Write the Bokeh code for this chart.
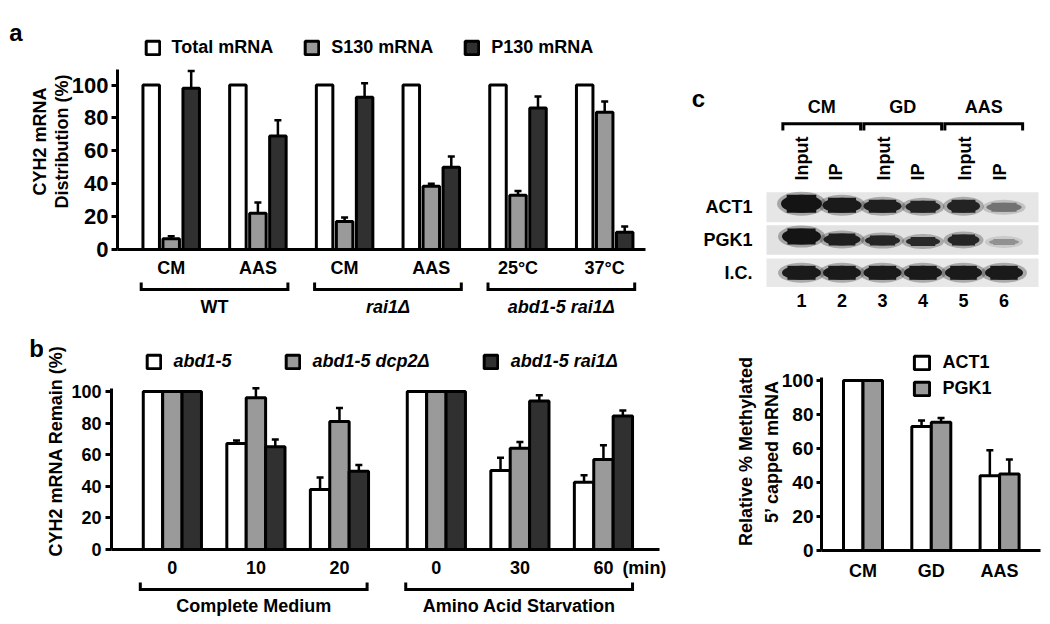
from math import pi
from bokeh.plotting import figure
from bokeh.models import Range1d, FixedTicker, Legend, LegendItem
from bokeh.layouts import row, column
from bokeh.embed import file_html
from bokeh.resources import INLINE
from bokeh.core.properties import value

FONT = "Liberation Sans"
WHITE, GRAY, DARK = "#ffffff", "#9a9a9a", "#303030"

# ---------------- data: panel a ----------------
a_conditions = ["CM", "AAS", "CM", "AAS", "25°C", "37°C"]
a_strains = ["WT", "rai1Δ", "abd1-5 rai1Δ"]
a_series = ["Total mRNA", "S130 mRNA", "P130 mRNA"]
a_total = [100, 100, 100, 100, 100, 100]
a_s130 = [6.5, 22, 17, 38.5, 33, 83.5]
a_s130_sd = [1.5, 6.5, 2.5, 1.5, 2.5, 6.5]
a_p130 = [98, 69, 92.5, 50, 86, 10.5]
a_p130_sd = [10.5, 9.5, 8.5, 6.5, 7, 3.5]

# ---------------- data: panel b ----------------
b_times = ["0", "10", "20", "0", "30", "60"]
b_media = ["Complete Medium", "Amino Acid Starvation"]
b_series = ["abd1-5", "abd1-5 dcp2Δ", "abd1-5 rai1Δ"]
b_abd1 = [100, 67, 38, 100, 50, 42.5]
b_abd1_sd = [0, 2, 7.5, 0, 8, 4.5]
b_dcp2 = [100, 96, 81, 100, 64, 57]
b_dcp2_sd = [0, 6, 8.5, 0, 4, 9]
b_rai1 = [100, 65, 49.5, 100, 94, 84.5]
b_rai1_sd = [0, 4.5, 4, 0, 3.5, 3.5]

# ---------------- data: panel c (gel) ----------------
c_conditions = ["CM", "GD", "AAS"]
c_lane_labels = ["Input", "IP", "Input", "IP", "Input", "IP"]
c_lane_numbers = ["1", "2", "3", "4", "5", "6"]
c_rows = ["ACT1", "PGK1", "I.C."]
c_act1_band = [1.0, 0.97, 0.95, 0.93, 0.93, 0.55]
c_pgk1_band = [1.0, 0.95, 0.92, 0.90, 0.92, 0.40]
c_ic_band = [0.97, 0.97, 0.97, 0.97, 0.97, 0.97]

# ---------------- data: panel c (bars) ----------------
c_series = ["ACT1", "PGK1"]
c_act1 = [100, 73, 44]
c_act1_sd = [0, 3.5, 15]
c_pgk1 = [100, 75.5, 45]
c_pgk1_sd = [0, 2.5, 8.5]


# ---------------- helpers ----------------
def make_fig(w, h, xr, yr, left, right, top, bottom, axes=True):
    kw = dict(width=w, height=h, x_range=xr, y_range=yr, output_backend="svg",
              toolbar_location=None, min_border_left=left, min_border_right=right,
              min_border_top=top, min_border_bottom=bottom, title=None,
              background_fill_color="white", border_fill_color="white",
              frame_align=False)
    if not axes:
        kw.update(x_axis_type=None, y_axis_type=None)
    p = figure(**kw)
    p.outline_line_color = None
    p.grid.visible = False
    return p


def style_axis(ax, size):
    ax.axis_line_width = 3
    ax.axis_line_color = "black"
    ax.major_tick_line_width = 3
    ax.major_tick_line_color = "black"
    ax.minor_tick_line_color = None
    ax.major_label_text_font = FONT
    ax.major_label_text_font_size = size
    ax.major_label_text_font_style = "bold"
    ax.major_label_text_color = "black"
    ax.axis_label_text_font = FONT
    ax.axis_label_text_font_size = "18px"
    ax.axis_label_text_font_style = "bold"
    ax.axis_label_text_color = "black"


def setup_axes(p, pos, labels, ytop, ysize, xsize, xstandoff, ystandoff, ylabel,
               ylabel_standoff, tick_out=6, line_height=1.2):
    xa, ya = p.xaxis[0], p.yaxis[0]
    style_axis(xa, xsize)
    style_axis(ya, ysize)
    xa.ticker = FixedTicker(ticks=list(pos))
    xa.major_label_overrides = {x: lab for x, lab in zip(pos, labels)}
    xa.major_tick_out = 0
    xa.major_tick_in = 0
    xa.major_label_standoff = xstandoff
    ya.ticker = FixedTicker(ticks=[0, 20, 40, 60, 80, 100])
    ya.bounds = (0, ytop)
    ya.major_tick_out = tick_out
    ya.major_tick_in = 0
    ya.major_label_standoff = ystandoff
    ya.axis_label = ylabel
    ya.axis_label_standoff = ylabel_standoff
    ya.axis_label_text_line_height = line_height


def bars(p, pos, series, colors, sds, spacing, width):
    rends = []
    n = len(series)
    for k, (vals, col, sd) in enumerate(zip(series, colors, sds)):
        off = (k - (n - 1) / 2) * spacing
        xs = [x + off for x in pos]
        r = p.vbar(x=xs, top=vals, bottom=0, width=width, fill_color=col,
                   line_color="black", line_width=3)
        rends.append(r)
        if sd is not None:
            ex = [x for x, s in zip(xs, sd) if s > 0]
            e0 = [v for v, s in zip(vals, sd) if s > 0]
            e1 = [v + s for v, s in zip(vals, sd) if s > 0]
            p.segment(x0=ex, y0=e0, x1=ex, y1=e1, line_color="black", line_width=2.5)
            p.scatter(x=ex, y=e1, marker="dash", size=7, line_color="black", line_width=2.5)
    return rends


def add_legend(p, names, rends, loc, orientation, spacing, style, gw, gh, standoff):
    items = [LegendItem(label=value(n), renderers=[r]) for n, r in zip(names, rends)]
    lg = Legend(items=items, location=loc, orientation=orientation, spacing=spacing,
                glyph_width=gw, glyph_height=gh, label_standoff=standoff,
                label_text_font=FONT, label_text_font_size="18px",
                label_text_font_style=style, label_text_color="black",
                padding=0, margin=0, border_line_color=None, background_fill_alpha=0)
    p.add_layout(lg)


def xr_from(frame_w, first_offset, pitch):
    start = -first_offset / pitch
    return Range1d(start, start + frame_w / pitch)


def brackets(p, pos, groups, ext, ytop, ybot, ylab, names, styles):
    xs, ys, cx = [], [], []
    for g in groups:
        l, r = pos[g[0]] - ext, pos[g[-1]] + ext
        xs.append([l, l, r, r])
        ys.append([ytop, ybot, ybot, ytop])
        cx.append((l + r) / 2)
    p.multi_line(xs=xs, ys=ys, line_color="black", line_width=3, line_join="miter")
    for x, n, s in zip(cx, names, styles):
        p.text(x=[x], y=[ylab], text=[n], text_font=value(FONT), text_font_size="18px",
               text_font_style=s, text_align="center", text_baseline="middle", text_color="black")


def letter_fig(w, h, txt, x, y):
    p = make_fig(w, h, Range1d(0, w), Range1d(h, 0), 0, 0, 0, 0, axes=False)
    p.text(x=[x], y=[y], text=[txt], text_font=value(FONT), text_font_size="24px",
           text_font_style="bold", text_align="center", text_baseline="alphabetic", text_color="black")
    return p


# ---------------- panel a ----------------
A_PITCH, A_SCALE = 86.7, 1.645
xr_a = xr_from(528, 53.7, A_PITCH)
la = letter_fig(24, 280, "a", 15.5, 31.5)
fa = make_fig(656, 280, xr_a, Range1d(0, 216 / A_SCALE), 93, 35, 33, 31)
a_pos = list(range(len(a_conditions)))
ra = bars(fa, a_pos, [a_total, a_s130, a_p130], [WHITE, GRAY, DARK],
          [None, a_s130_sd, a_p130_sd], 20 / A_PITCH, 16.5 / A_PITCH)
setup_axes(fa, a_pos, a_conditions, 109.4, "22px", "18px", 8, 3,
           "CYH2 mRNA\nDistribution (%)", -3, line_height=1.1)
add_legend(fa, a_series, ra, (26.5, 191.5), "horizontal", 30, "bold", 17, 17, 11)

fa2 = make_fig(680, 38, xr_a, Range1d(38, 0), 117, 35, 0, 0, axes=False)
brackets(fa2, a_pos, [(0, 1), (2, 3), (4, 5)], 0.346, 2, 9, 26, a_strains,
         ["bold", "bold italic", "bold italic"])

# ---------------- panel b ----------------
B_PITCH, B_SCALE = 84.0, 1.597
xr_b = xr_from(551, 61.2, B_PITCH)
lb = letter_fig(43, 262, "b", 36, 30)
fb = make_fig(637, 262, xr_b, Range1d(0, 199 / B_SCALE), 65, 21, 34, 29)
b_pos = [i + (0.16 if i >= 3 else 0.0) for i in range(len(b_times))]
rb = bars(fb, b_pos, [b_abd1, b_dcp2, b_rai1], [WHITE, GRAY, DARK],
          [b_abd1_sd, b_dcp2_sd, b_rai1_sd], 19.5 / B_PITCH, 19.5 / B_PITCH)
setup_axes(fb, b_pos + [b_pos[-1] + 0.49], b_times + ["(min)"], 102, "18px", "18px", 8, 4,
           "CYH2 mRNA Remain (%)", 2)
add_legend(fb, b_series, rb, (33.5, 176.8), "horizontal", 52, "bold italic", 17, 17, 12)

fb2 = make_fig(680, 44, xr_b, Range1d(44, 0), 108, 21, 0, 0, axes=False)
brackets(fb2, b_pos, [(0, 1, 2), (3, 4, 5)], 0.35, 2, 9, 25, b_media, ["bold", "bold"])

# ---------------- panel c: gel ----------------
P, Q = 40.5, 32.8
LANE1_X, ROW0_Y = 801.0, 206.7


def gx(px):
    return (px - LANE1_X) / P + 1


def gy(py):
    return (py - ROW0_Y) / Q


fg = make_fig(370, 318, Range1d(gx(680), gx(1050)), Range1d(gy(318), gy(0)), 0, 0, 0, 0, axes=False)
lanes = list(range(1, len(c_lane_labels) + 1))
rows = list(range(len(c_rows)))

# strips (membrane background)
fg.rect(x=[gx(902)] * 3, y=rows, width=272 / P, height=[30 / Q, 29.3 / Q, 28.4 / Q],
        fill_color=["#e6e6e6", "#e2e2e2", "#e8e8e8"], line_color=None)

band_w = [[41, 39, 38, 35, 33, 35], [39, 37, 35, 34, 32, 30], [39, 38, 38, 38, 37, 38]]
band_h = [[18, 15, 13, 12, 13, 9], [16, 12, 10, 9, 11, 6], [14, 14, 14, 14, 14, 14]]
band_dy = [[-3.5, -2, -1, -0.5, -1, 0], [-3.5, -0.5, 0.5, 1.5, 0, 2], [0, 0, 0, 0, 0, 0]]
for r, inten in zip(rows, [c_act1_band, c_pgk1_band, c_ic_band]):
    cols = []
    for v in inten:
        g = int(round(228 - v * (228 - 20)))
        cols.append("#%02x%02x%02x" % (g, g, g))
    ys = [r + d / Q for d in band_dy[r]]
    ws = [w / P for w in band_w[r]]
    hs = [h / Q for h in band_h[r]]
    fg.ellipse(x=lanes, y=ys, width=[w + 8 / P for w in ws], height=[h + 6 / Q for h in hs],
               fill_color=cols, fill_alpha=0.3, line_color=None)
    fg.ellipse(x=lanes, y=ys, width=ws, height=hs, fill_color=cols, line_color=None)
    fg.rect(x=lanes, y=ys, width=[w * 0.72 for w in ws], height=hs, fill_color=cols, line_color=None)

TXT = dict(text_font=value(FONT), text_font_size="18px", text_font_style="bold", text_color="black")
fg.text(x=[gx(752)] * 3, y=rows, text=c_rows, text_align="right", text_baseline="middle", **TXT)
fg.text(x=lanes, y=[gy(300)] * 6, text=c_lane_numbers, text_align="center", text_baseline="middle", **TXT)
lab_dx = [0, -6, 1, -5, 1, -4]
fg.text(x=[l + d / P for l, d in zip(lanes, lab_dx)], y=[gy(180)] * 6, text=c_lane_labels,
        angle=pi / 2, text_align="left", text_baseline="middle", **TXT)
centers = [2 * i + 1.5 for i in range(len(c_conditions))]
fg.multi_line(xs=[[c - 0.96, c - 0.96, c + 0.96, c + 0.96] for c in centers],
              ys=[[gy(130), gy(123.3), gy(123.3), gy(130)] for c in centers],
              line_color="black", line_width=3, line_join="miter")
fg.text(x=centers, y=[gy(106)] * 3, text=c_conditions, text_align="center", text_baseline="middle", **TXT)
fg.text(x=[gx(698)], y=[gy(98)], text=["c"], text_align="center", text_baseline="alphabetic",
        text_font=value(FONT), text_font_size="24px", text_font_style="bold", text_color="black")

# ---------------- panel c: bars ----------------
C_PITCH, C_SCALE = 68.3, 1.7
fc = make_fig(370, 306, xr_from(219, 41.5, C_PITCH), Range1d(0, 198 / C_SCALE), 141, 10, 34, 74)
c_pos = list(range(len(c_conditions)))
rc = bars(fc, c_pos, [c_act1, c_pgk1], [WHITE, GRAY], [c_act1_sd, c_pgk1_sd],
          19.5 / C_PITCH, 19.5 / C_PITCH)
setup_axes(fc, c_pos, c_conditions, 102, "19px", "18px", 10, 3,
           "Relative % Methylated\n5\u2019 capped mRNA", -3, tick_out=5, line_height=1.3)
add_legend(fc, c_series, rc, (90.5, 151.5), "vertical", 5, "bold", 19, 17, 12)

left = column(row(la, fa, spacing=0), fa2, row(lb, fb, spacing=0), fb2, spacing=0)
right = column(fg, fc, spacing=0)
layout = row(left, right, spacing=0)
open("out.html", "w").write(file_html(layout, INLINE, title="CYH2 mRNA"))
